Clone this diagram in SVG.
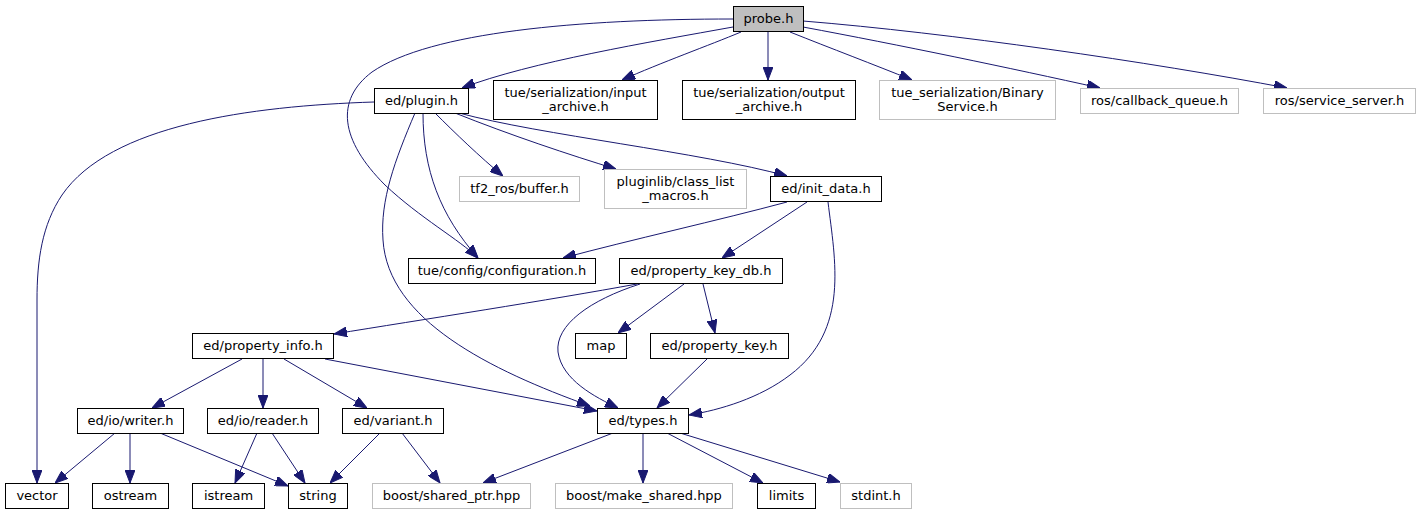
<svg xmlns="http://www.w3.org/2000/svg" width="1421" height="515" viewBox="0 0 1421 515">
<style>
.n rect{fill:#fff;stroke:#000;stroke-width:1}
.g rect{fill:#fff;stroke:#bfbfbf;stroke-width:1}
.r rect{fill:#bfbfbf;stroke:#000;stroke-width:1}
text{font-family:"DejaVu Sans","Liberation Sans",sans-serif;font-size:13px;text-anchor:middle;fill:#000}
#edges path{fill:none;stroke:#191970;stroke-width:1;marker-end:url(#a)}
</style>
<defs>
<marker id="a" markerWidth="13" markerHeight="10" refX="13" refY="5" orient="auto" markerUnits="userSpaceOnUse">
<path d="M0,0 L13,5 L0,10 z" fill="#191970" stroke="#191970" stroke-width="1"/>
</marker>
</defs>
<rect width="1421" height="515" fill="#fff"/>
<g id="edges">
<path d="M733,27 C650,42 530,62 462,88"/>
<path d="M741,32 C710,45 660,63 622,80"/>
<path d="M768,32 L768,80"/>
<path d="M790,32 C830,48 875,65 912,80"/>
<path d="M803,27 C900,45 1010,68 1100,88"/>
<path d="M803,21 C950,33 1150,62 1287,88"/>
<path d="M733,19 C580,19 430,32 372,72 C335,100 340,140 385,185 C420,218 460,240 478,258"/>
<path d="M374,102 C250,106 110,125 62,195 C42,225 37,260 37,300 L37,483"/>
<path d="M435,113 C455,133 480,157 503,176"/>
<path d="M455,113 C510,135 570,155 616,169"/>
<path d="M459,113 C540,135 700,152 787,176"/>
<path d="M423,113 C423,170 440,215 478,258"/>
<path d="M415,113 C395,160 380,200 383,240 C388,320 490,370 590,406"/>
<path d="M787,202 C720,220 630,240 563,258"/>
<path d="M807,202 L722,258"/>
<path d="M828,202 C835,260 850,330 790,375 C760,398 720,410 689,415"/>
<path d="M637,284 C550,300 420,320 334,334"/>
<path d="M640,284 C590,300 555,325 558,352 C562,380 595,397 618,408"/>
<path d="M684,284 L618,333"/>
<path d="M703,284 L715,333"/>
<path d="M707,359 L657,408"/>
<path d="M242,359 L152,408"/>
<path d="M263,359 L263,408"/>
<path d="M284,359 L367,408"/>
<path d="M325,359 L597,411"/>
<path d="M115,433 L55,483"/>
<path d="M130,433 L130,483"/>
<path d="M160,433 L288,486"/>
<path d="M257,433 L235,483"/>
<path d="M272,433 L305,483"/>
<path d="M380,433 L330,483"/>
<path d="M402,433 L440,483"/>
<path d="M613,433 L483,483"/>
<path d="M643,433 L643,483"/>
<path d="M667,433 L763,483"/>
<path d="M680,433 L840,482"/>
</g>
<g id="probe" class="r"><rect x="733.5" y="6.5" width="70" height="25"/><text x="768.5" y="23">probe.h</text></g>
<g id="plugin" class="n"><rect x="374.5" y="88.5" width="94" height="25"/><text x="421.5" y="105">ed/plugin.h</text></g>
<g id="input_archive" class="n"><rect x="493.5" y="80.5" width="164" height="39"/><text x="575.5" y="97">tue/serialization/input</text><text x="575.5" y="111">_archive.h</text></g>
<g id="output_archive" class="n"><rect x="682.5" y="80.5" width="173" height="39"/><text x="769" y="97">tue/serialization/output</text><text x="769" y="111">_archive.h</text></g>
<g id="binary_service" class="g"><rect x="879.5" y="80.5" width="176" height="39"/><text x="967.5" y="97">tue_serialization/Binary</text><text x="967.5" y="111">Service.h</text></g>
<g id="callback_queue" class="g"><rect x="1080.5" y="88.5" width="158" height="25"/><text x="1159.5" y="105">ros/callback_queue.h</text></g>
<g id="service_server" class="g"><rect x="1263.5" y="88.5" width="152" height="25"/><text x="1339.5" y="105">ros/service_server.h</text></g>
<g id="tf2_buffer" class="g"><rect x="459.5" y="176.5" width="120" height="25"/><text x="519.5" y="193">tf2_ros/buffer.h</text></g>
<g id="pluginlib" class="g"><rect x="604.5" y="169.5" width="142" height="39"/><text x="675.5" y="186">pluginlib/class_list</text><text x="675.5" y="200">_macros.h</text></g>
<g id="init_data" class="n"><rect x="770.5" y="176.5" width="111" height="25"/><text x="826" y="193">ed/init_data.h</text></g>
<g id="configuration" class="n"><rect x="408.5" y="258.5" width="187" height="25"/><text x="502" y="275">tue/config/configuration.h</text></g>
<g id="property_key_db" class="n"><rect x="619.5" y="258.5" width="163" height="25"/><text x="701" y="275">ed/property_key_db.h</text></g>
<g id="property_info" class="n"><rect x="192.5" y="333.5" width="141" height="25"/><text x="263" y="350">ed/property_info.h</text></g>
<g id="map" class="n"><rect x="575.5" y="333.5" width="51" height="25"/><text x="601" y="350">map</text></g>
<g id="property_key" class="n"><rect x="650.5" y="333.5" width="138" height="25"/><text x="719.5" y="350">ed/property_key.h</text></g>
<g id="writer" class="n"><rect x="77.5" y="408.5" width="106" height="25"/><text x="130.5" y="425">ed/io/writer.h</text></g>
<g id="reader" class="n"><rect x="207.5" y="408.5" width="111" height="25"/><text x="263" y="425">ed/io/reader.h</text></g>
<g id="variant" class="n"><rect x="342.5" y="408.5" width="101" height="25"/><text x="393" y="425">ed/variant.h</text></g>
<g id="types" class="n"><rect x="597.5" y="408.5" width="91" height="25"/><text x="643" y="425">ed/types.h</text></g>
<g id="vector" class="n"><rect x="5.5" y="483.5" width="63" height="25"/><text x="37" y="500">vector</text></g>
<g id="ostream" class="n"><rect x="92.5" y="483.5" width="76" height="25"/><text x="130.5" y="500">ostream</text></g>
<g id="istream" class="n"><rect x="192.5" y="483.5" width="72" height="25"/><text x="228.5" y="500">istream</text></g>
<g id="string" class="n"><rect x="288.5" y="483.5" width="59" height="25"/><text x="318" y="500">string</text></g>
<g id="shared_ptr" class="g"><rect x="372.5" y="483.5" width="158" height="25"/><text x="451.5" y="500">boost/shared_ptr.hpp</text></g>
<g id="make_shared" class="g"><rect x="555.5" y="483.5" width="177" height="25"/><text x="644" y="500">boost/make_shared.hpp</text></g>
<g id="limits" class="n"><rect x="757.5" y="483.5" width="58" height="25"/><text x="786.5" y="500">limits</text></g>
<g id="stdint" class="g"><rect x="840.5" y="483.5" width="71" height="25"/><text x="876" y="500">stdint.h</text></g>
</svg>
